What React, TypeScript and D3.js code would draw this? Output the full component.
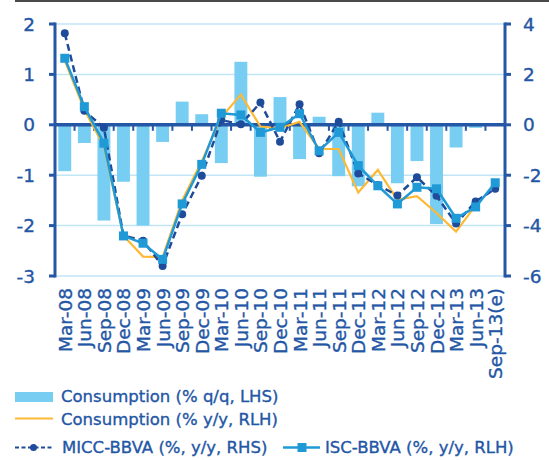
import React from "react";
import * as d3 from "d3";

const categories = ["Mar-08","Jun-08","Sep-08","Dec-08","Mar-09","Jun-09","Sep-09","Dec-09","Mar-10","Jun-10","Sep-10","Dec-10","Mar-11","Jun-11","Sep-11","Dec-11","Mar-12","Jun-12","Sep-12","Dec-12","Mar-13","Jun-13","Sep-13(e)"];
const consQQ: (number | null)[] = [-0.92,-0.36,-1.9,-1.13,-2.0,-0.34,0.46,0.21,-0.76,1.25,-1.03,0.55,-0.68,0.16,-1.02,-1.22,0.24,-1.16,-0.72,-1.97,-0.45,-0.06,null];
const consYY: (number | null)[] = [2.55,0.6,-0.85,-4.4,-5.23,-5.25,-3.0,-1.45,0.3,1.2,-0.07,-0.14,0.12,-0.96,-0.96,-2.69,-1.79,-2.98,-2.83,-3.5,-4.24,-3.2,null];
const micc: number[] = [3.63,0.56,-0.12,-4.4,-4.6,-5.6,-3.55,-2.02,0.19,0.02,0.88,-0.67,0.82,-1.13,0.12,-1.93,-2.39,-2.81,-2.08,-2.82,-3.92,-3.04,-2.54];
const isc: number[] = [2.64,0.72,-0.73,-4.41,-4.70,-5.34,-3.14,-1.57,0.46,0.39,-0.3,-0.1,0.44,-1.03,-0.3,-1.62,-2.42,-3.14,-2.48,-2.54,-3.71,-3.26,-2.3];
const leftTicks = [2, 1, 0, -1, -2, -3];
const rightTicks = [4, 2, 0, -2, -4, -6];
const legendLabels = ["Consumption (% q/q, LHS)", "Consumption (% y/y, RLH)", "MICC-BBVA (%, y/y, RHS)", "ISC-BBVA (%, y/y, RLH)"];

const W = 549, H = 460;
const X0 = 55, X1 = 505, YT = 24, YB = 276;
const NAVY = "#2457a6";
const TEXT = "#2356a5";
const BAR = "#77cdf2";
const ORANGE = "#fdb933";
const ISC = "#1f9ad6";
const MICC = "#1f4c9a";
const GRID = "#c2e5f6";
const FONT = "'DejaVu Sans', sans-serif";
const TS = { stroke: TEXT, strokeWidth: 0.35 };

export default function App() {
  const x = d3.scaleBand<string>().domain(categories).range([X0, X1]).paddingInner(0.34).paddingOuter(0.17);
  const step = x.step();
  const cx = (i: number) => (x(categories[i]) as number) + x.bandwidth() / 2;
  const yL = d3.scaleLinear().domain([-3, 2]).range([YB, YT]);
  const yR = d3.scaleLinear().domain([-6, 4]).range([YB, YT]);

  const lineGen = d3.line<number | null>()
    .defined((d) => d !== null)
    .x((_, i) => cx(i))
    .y((d) => yR(d as number));

  return (
    <svg width={W} height={H} style={{ position: "absolute", left: 0, top: 0, background: "#fff" }} fontFamily={FONT}>
      <line x1={15} x2={549} y1={1} y2={1} stroke="#4a4a4a" strokeWidth={2} />
      {leftTicks.map((t) => (
        <line key={"g" + t} x1={X0} x2={X1} y1={yL(t)} y2={yL(t)} stroke={GRID} strokeWidth={1.5} />
      ))}
      {consQQ.map((v, i) =>
        v === null ? null : (
          <rect key={"b" + i} x={x(categories[i])} width={x.bandwidth()}
            y={Math.min(yL(v), yL(0))} height={Math.abs(yL(v) - yL(0))} fill={BAR} />
        )
      )}
      <line x1={X0} x2={X1} y1={yL(0)} y2={yL(0)} stroke={NAVY} strokeWidth={3.5} />
      {categories.slice(1).map((c, i) => {
        const bx = X0 + step * (i + 1);
        return <line key={"ct" + i} x1={bx} x2={bx} y1={yL(0)} y2={yL(0) + 6} stroke={NAVY} strokeWidth={2} />;
      })}
      <line x1={X0} x2={X0} y1={YT - 1.5} y2={YB + 1.5} stroke={NAVY} strokeWidth={3} />
      {leftTicks.map((t) => (
        <g key={"lt" + t}>
          <line x1={X0 - 6} x2={X0} y1={yL(t)} y2={yL(t)} stroke={NAVY} strokeWidth={3} />
          <text x={35} y={yL(t)} dy="0.36em" textAnchor="end" fontSize={18.5} fill={TEXT} {...TS}>{t}</text>
        </g>
      ))}
      <line x1={X1} x2={X1} y1={YT - 1.5} y2={YB + 1.5} stroke={NAVY} strokeWidth={3} />
      {rightTicks.map((t) => (
        <g key={"rt" + t}>
          <line x1={X1} x2={X1 + 6} y1={yR(t)} y2={yR(t)} stroke={NAVY} strokeWidth={3} />
          <text x={523} y={yR(t)} dy="0.36em" textAnchor="start" fontSize={18.5} fill={TEXT} {...TS}>{t}</text>
        </g>
      ))}
      <path d={lineGen(consYY) || ""} fill="none" stroke={ORANGE} strokeWidth={2.2} />
      <path d={lineGen(micc) || ""} fill="none" stroke={MICC} strokeWidth={2.5} strokeDasharray="7,4" />
      {micc.map((v, i) => (
        <circle key={"m" + i} cx={cx(i)} cy={yR(v)} r={4} fill={MICC} />
      ))}
      <path d={lineGen(isc) || ""} fill="none" stroke={ISC} strokeWidth={2.5} />
      {isc.map((v, i) => (
        <rect key={"s" + i} x={cx(i) - 4.5} y={yR(v) - 4.5} width={9} height={9} fill={ISC} />
      ))}
      {categories.map((c, i) => (
        <text key={"xl" + i} transform={`translate(${cx(i) + 7},288) rotate(-90)`} textAnchor="end"
          fontSize={18.5} fill={TEXT} {...TS}>{c}</text>
      ))}
      <rect x={15} y={392} width={38} height={10} fill={BAR} />
      <text x={61} y={402} fontSize={16.5} fill={TEXT} {...TS}>{legendLabels[0]}</text>
      <line x1={15} x2={53} y1={418.5} y2={418.5} stroke={ORANGE} strokeWidth={2.2} />
      <text x={61} y={425} fontSize={16.5} fill={TEXT} {...TS}>{legendLabels[1]}</text>
      <line x1={15} x2={53} y1={447.5} y2={447.5} stroke={MICC} strokeWidth={2.2} strokeDasharray="4,2.5" />
      <circle cx={33.5} cy={447.5} r={3.5} fill={MICC} />
      <text x={62} y={453} fontSize={16.5} fill={TEXT} {...TS}>{legendLabels[2]}</text>
      <line x1={283} x2={320} y1={447.5} y2={447.5} stroke={ISC} strokeWidth={2.5} />
      <rect x={297.5} y={443} width={9} height={9} fill={ISC} />
      <text x={325} y={453} fontSize={16.5} fill={TEXT} {...TS}>{legendLabels[3]}</text>
    </svg>
  );
}
